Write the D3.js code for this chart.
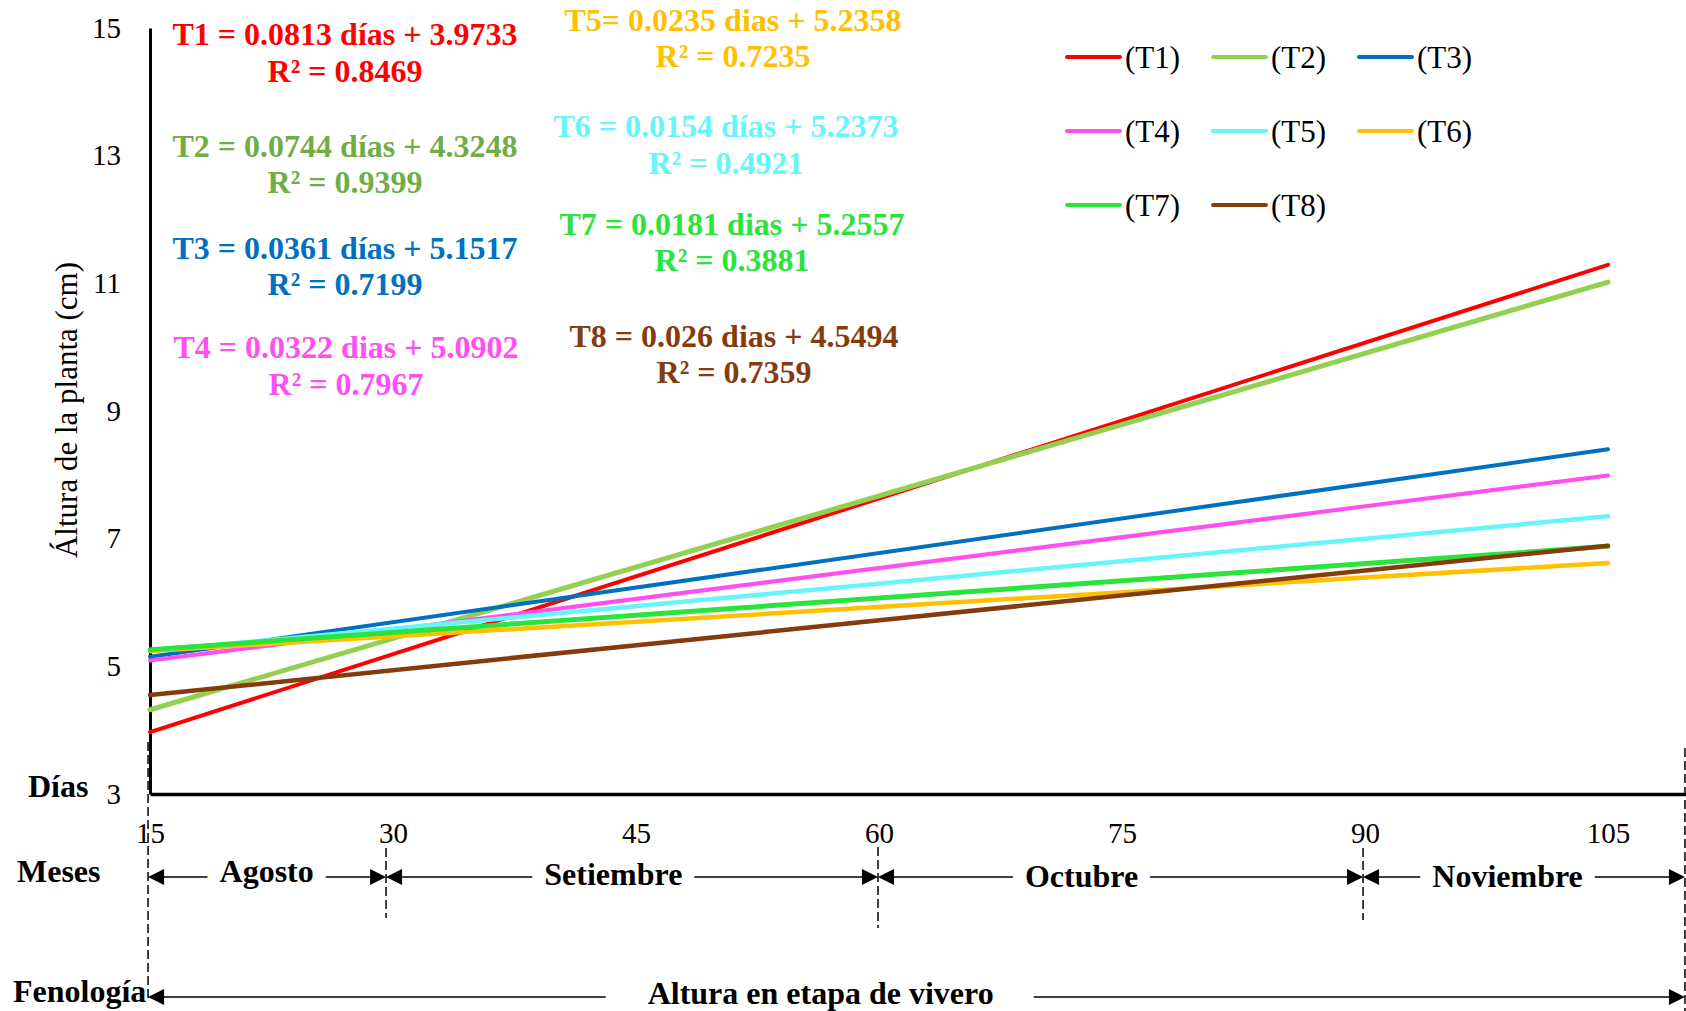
<!DOCTYPE html>
<html>
<head>
<meta charset="utf-8">
<script src="https://cdn.jsdelivr.net/npm/d3@7"></script>
<style>
  html, body { margin: 0; padding: 0; background: #fff; }
  svg { display: block; font-family: "Liberation Serif", "Times New Roman", serif; }
  svg text { font-family: "Liberation Serif", "Times New Roman", serif; }
</style>
</head>
<body>
<svg id="chart" width="1686" height="1011"></svg>
<script>
// ---------------- DATA ----------------
const dias = [15, 105];                       // days at which each trend line is drawn
const seriesNames = ["T1", "T2", "T3", "T4", "T5", "T6", "T7", "T8"];
const alturaT1 = [3.97, 11.29];
const alturaT2 = [4.32, 11.02];
const alturaT3 = [5.15, 8.40];
const alturaT4 = [5.09, 7.99];
const alturaT5 = [5.24, 7.35];
const alturaT6 = [5.24, 6.62];
const alturaT7 = [5.26, 6.88];
const alturaT8 = [4.55, 6.89];
const seriesValues = [alturaT1, alturaT2, alturaT3, alturaT4, alturaT5, alturaT6, alturaT7, alturaT8];

const yTicks = [3, 5, 7, 9, 11, 13, 15];
const xTicks = [15, 30, 45, 60, 75, 90, 105];

const equations = [
  "T1 = 0.0813 días + 3.9733",
  "T2 = 0.0744 días + 4.3248",
  "T3 = 0.0361 días + 5.1517",
  "T4 = 0.0322 dias + 5.0902",
  "T5= 0.0235 dias + 5.2358",
  "T6 = 0.0154 días + 5.2373",
  "T7 = 0.0181 dias + 5.2557",
  "T8 = 0.026 dias + 4.5494"
];
const r2Labels = ["R² = 0.8469", "R² = 0.9399", "R² = 0.7199", "R² = 0.7967",
                  "R² = 0.7235", "R² = 0.4921", "R² = 0.3881", "R² = 0.7359"];

const meses = ["Agosto", "Setiembre", "Octubre", "Noviembre"];
const mesLimites = [14.88, 29.57, 59.94, 89.88, 109.75];   // day boundaries of months (dashed lines)
const mesEtiquetaDia = [22.2, 43.6, 72.5, 98.8];           // day at which each month label is centred
const fenologia = "Altura en etapa de vivero";
const fenologiaDia = 56.4;

// ---------------- STYLES ----------------
const SERIF = "'Liberation Serif', 'Times New Roman', serif";
const lineColors = ["#FF0000", "#92D050", "#0070C0", "#FF4FF0", "#66F5FA", "#FFC000", "#2BE33D", "#843C0C"];
const lineWidths = [4, 5, 4, 4, 4.5, 4.5, 5, 4.5];
const eqColors   = ["#FF0000", "#70AD47", "#0070C0", "#FF4FF0", "#FFC000", "#66F5FA", "#2BE33D", "#843C0C"];
// equation layout: [centre x, baseline of equation, baseline of R²]
const eqLayout = [
  [345, 45, 82], [345, 157, 193], [345, 259, 295], [346, 358, 395],
  [733, 31, 67], [726, 137, 174], [732, 235, 271], [734, 347, 383]
];

// ---------------- CHART ----------------
const svg = d3.select("#chart");
const FONT_TICK = 29, FONT_BOLD = 32, FONT_LEG = 31;

const x = d3.scaleLinear().domain([15, 110]).range([150, 1689]);
const y = d3.scaleLinear().domain([3, 15]).range([794, 28]);

// Y axis
const gy = svg.append("g").attr("transform", `translate(${x(15)},0)`)
  .call(d3.axisLeft(y).tickValues(yTicks).tickSize(0).tickSizeOuter(0).tickPadding(29).tickFormat(d3.format("d")));
gy.attr("font-family", SERIF);
gy.select(".domain").attr("stroke", "#000").attr("stroke-width", 3);
gy.selectAll("text").attr("font-size", FONT_TICK).style("font-family", SERIF).attr("fill", "#000");

// X axis
const gx = svg.append("g").attr("transform", `translate(0,${y(3)})`)
  .call(d3.axisBottom(x).tickValues(xTicks).tickSize(0).tickSizeOuter(0).tickPadding(28).tickFormat(d3.format("d")));
gx.attr("font-family", SERIF);
gx.select(".domain").attr("stroke", "#000").attr("stroke-width", 3.5);
gx.selectAll("text").attr("font-size", FONT_TICK).style("font-family", SERIF).attr("fill", "#000");

// Y axis title
svg.append("text")
  .attr("transform", `translate(77,410) rotate(-90)`)
  .attr("text-anchor", "middle")
  .attr("font-size", 31)
  .text("Áltura de la planta (cm)");

// Trend lines
const lineGen = d3.line().x((d, i) => x(dias[i])).y(d => y(d));
seriesValues.forEach((vals, i) => {
  svg.append("path")
    .attr("d", lineGen(vals))
    .attr("fill", "none")
    .attr("stroke", lineColors[i])
    .attr("stroke-width", lineWidths[i])
    .attr("stroke-linecap", "round");
});

// Equations
equations.forEach((eq, i) => {
  const [cx, b1, b2] = eqLayout[i];
  svg.append("text").attr("x", cx).attr("y", b1).attr("text-anchor", "middle")
    .attr("font-weight", "bold").attr("font-size", FONT_BOLD).attr("fill", eqColors[i]).text(eq);
  svg.append("text").attr("x", cx).attr("y", b2).attr("text-anchor", "middle")
    .attr("font-weight", "bold").attr("font-size", FONT_BOLD).attr("fill", eqColors[i]).text(r2Labels[i]);
});

// Legend
const legX = [1067, 1213, 1359], legY = [57, 131, 205];
seriesNames.forEach((name, i) => {
  const cx = legX[i % 3], cy = legY[Math.floor(i / 3)];
  svg.append("line").attr("x1", cx).attr("x2", cx + 53).attr("y1", cy).attr("y2", cy)
    .attr("stroke", lineColors[i]).attr("stroke-width", 4).attr("stroke-linecap", "round");
  svg.append("text").attr("x", cx + 58).attr("y", cy + 11).attr("font-size", FONT_LEG)
    .attr("fill", "#000").text(`(${name})`);
});

// Row labels
const boldText = (t, xx, yy, anchor) => svg.append("text").attr("x", xx).attr("y", yy)
  .attr("text-anchor", anchor || "start").attr("font-weight", "bold").attr("font-size", FONT_BOLD).attr("fill", "#000").text(t);
boldText("Días", 28, 797);
boldText("Meses", 17, 882);
boldText("Fenología", 13, 1002);

// Dashed boundary lines
const dashExtents = [[742, 1000], [848, 918], [847, 928], [848, 920], [748, 1011]];
mesLimites.forEach((d, i) => {
  svg.append("line").attr("x1", x(d)).attr("x2", x(d))
    .attr("y1", dashExtents[i][0]).attr("y2", dashExtents[i][1])
    .attr("stroke", "#000").attr("stroke-width", 1.5).attr("stroke-dasharray", "9,4");
});

function arrowHead(tipX, yy, dir) {
  // dir: -1 points left, +1 points right
  const L = 16, H = 8;
  svg.append("path")
    .attr("d", `M${tipX},${yy} L${tipX - dir * L},${yy - H} L${tipX - dir * L},${yy + H} Z`)
    .attr("fill", "#000");
}
function seg(x1, x2, yy) {
  svg.append("line").attr("x1", x1).attr("x2", x2).attr("y1", yy).attr("y2", yy)
    .attr("stroke", "#000").attr("stroke-width", 1.6);
}

// Month arrows
const mesY = 877;
const mesBase = [882, 885, 887, 887];
meses.forEach((m, i) => {
  const xa = x(mesLimites[i]), xb = x(mesLimites[i + 1]);
  const cx = x(mesEtiquetaDia[i]);
  const t = boldText(m, cx, mesBase[i], "middle");
  const w = t.node().getComputedTextLength();
  seg(xa + 2, cx - w / 2 - 12, mesY);
  seg(cx + w / 2 + 12, xb - 2, mesY);
  arrowHead(xa, mesY, -1);
  arrowHead(xb, mesY, 1);
});

// Phenology arrow
const fenY = 997;
{
  const cx = x(fenologiaDia);
  const t = boldText(fenologia, cx, 1004, "middle");
  const w = t.node().getComputedTextLength();
  const xa = x(mesLimites[0]), xb = x(mesLimites[mesLimites.length - 1]);
  seg(xa + 2, cx - w / 2 - 42, fenY);
  seg(cx + w / 2 + 40, xb - 2, fenY);
  arrowHead(xa, fenY, -1);
  arrowHead(xb, fenY, 1);
}
</script>
</body>
</html>
